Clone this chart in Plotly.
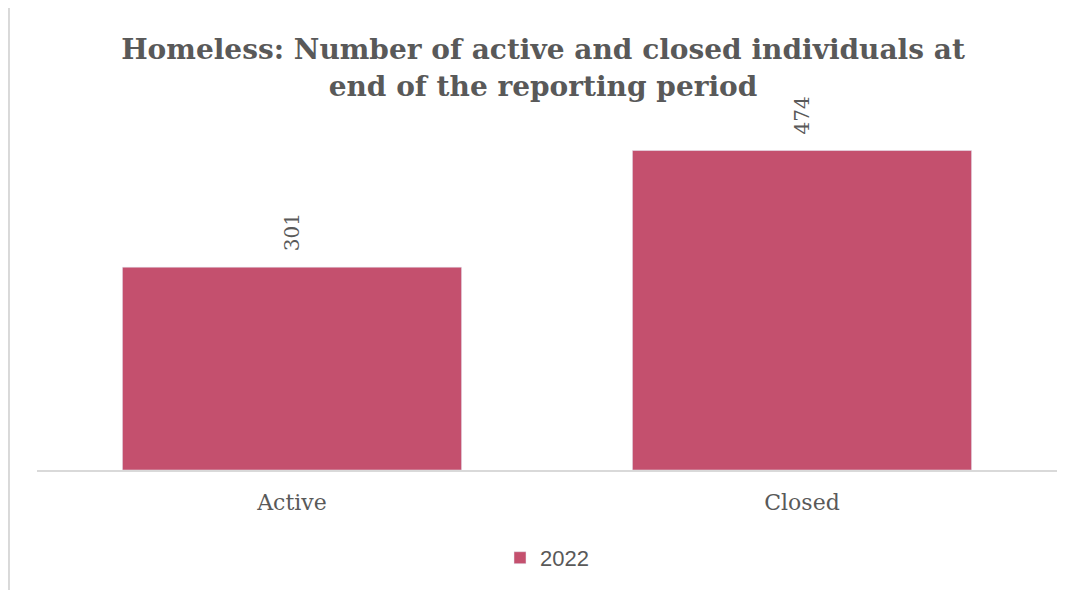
import plotly.graph_objects as go

categories = ["Active", "Closed"]
values_2022 = [301, 474]
series_name = "2022"

bar_color = "#C4506E"
text_color = "#595959"

# page body has an 8px margin; size the figure so the plot lands where the reference shows it
W, H = 1070, 582

fig = go.Figure()
fig.add_trace(go.Bar(
    x=categories,
    y=values_2022,
    name=series_name,
    marker=dict(color=bar_color),
    cliponaxis=False,
    showlegend=True,
))

for c, v in zip(categories, values_2022):
    fig.add_annotation(
        x=c, y=v, xref="x", yref="y",
        text=str(v), showarrow=False,
        textangle=-90, yanchor="bottom", xanchor="center",
        yshift=14,
        font=dict(family="DejaVu Serif", size=20, color=text_color),
    )

fig.update_layout(
    width=W, height=H,
    paper_bgcolor="white", plot_bgcolor="white",
    margin=dict(l=29, r=21, t=125, b=119),
    bargap=0.335,
    title=dict(
        text="<b>Homeless: Number of active and closed individuals at<br>end of the reporting period</b>",
        x=0.5, xanchor="center", y=0.912, yanchor="top",
        font=dict(family="DejaVu Serif", size=28, color=text_color),
    ),
    xaxis=dict(
        showline=True, linecolor="#D9D9D9", linewidth=2,
        ticks="", showgrid=False, ticklabelstandoff=12,
        tickfont=dict(family="DejaVu Serif", size=22, color=text_color),
    ),
    yaxis=dict(range=[0, 500], visible=False, showgrid=False, zeroline=False),
    legend=dict(
        orientation="h", x=0.5, xanchor="center", y=-0.195, yanchor="top",
        font=dict(family="Liberation Sans, Arial", size=22, color=text_color),
    ),
    shapes=[dict(
        type="line", xref="paper", yref="paper",
        x0=-0.0275, x1=-0.0275, y0=-0.4, y1=1.5,
        line=dict(color="#D9D9D9", width=2),
    )],
)

fig.write_html("out.html")
